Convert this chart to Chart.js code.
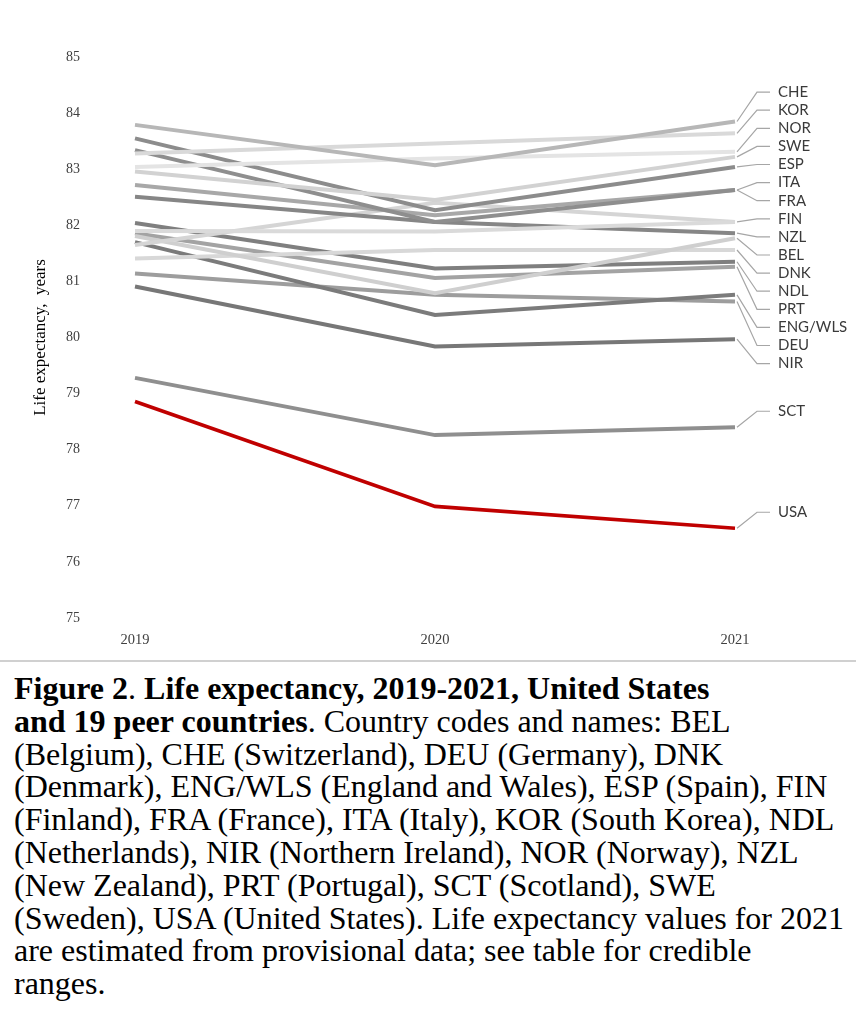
<!DOCTYPE html>
<html>
<head>
<meta charset="utf-8">
<script src="https://cdn.jsdelivr.net/npm/chart.js@4/dist/chart.umd.min.js"></script>
<style>
  html, body { margin: 0; padding: 0; background: #ffffff; }
  #wrap { position: relative; width: 863px; height: 1024px; overflow: hidden; }
  #chart { position: absolute; left: 0; top: 0; width: 863px; height: 660px; }
  #sep { position: absolute; left: 0; top: 660px; width: 856px; height: 2px; background: #d0d0d0; }
  #cap { position: absolute; left: 14px; top: 672px; font-family: "Liberation Serif", "Times New Roman", serif;
         font-size: 32px; line-height: 32.8px; color: #000; white-space: nowrap; }
</style>
</head>
<body>
<div id="wrap">
  <canvas id="chart" width="863" height="660"></canvas>
  <div id="sep"></div>
  <div id="cap">
    <b>Figure 2</b>. <b>Life expectancy, 2019-2021, United States</b><br>
    <b>and 19 peer countries</b>. Country codes and names: BEL<br>
    (Belgium), CHE (Switzerland), DEU (Germany), DNK<br>
    (Denmark), ENG/WLS (England and Wales), ESP (Spain), FIN<br>
    (Finland), FRA (France), ITA (Italy), KOR (South Korea), NDL<br>
    (Netherlands), NIR (Northern Ireland), NOR (Norway), NZL<br>
    (New Zealand), PRT (Portugal), SCT (Scotland), SWE<br>
    (Sweden), USA (United States). Life expectancy values for 2021<br>
    are estimated from provisional data; see table for credible<br>
    ranges.
  </div>
</div>
<script>
// ---- data ----
const years = [2019, 2020, 2021];
const yTicks = [75, 76, 77, 78, 79, 80, 81, 82, 83, 84, 85];

const CHE = [83.79, 83.07, 83.85];
const KOR = [83.28, 83.46, 83.64];
const NOR = [83.04, 83.19, 83.31];
const SWE = [82.96, 82.45, 83.22];
const ESP = [83.55, 82.27, 83.04];
const ITA = [83.34, 82.06, 82.63];
const FRA = [82.72, 82.18, 82.63];
const FIN = [81.90, 81.89, 82.06];
const NZL = [82.51, 82.06, 81.86];
const UNLABELED = [81.65, 82.40, 82.06];
const BEL = [81.81, 80.79, 81.77];
const DNK = [81.41, 81.56, 81.56];
const NDL = [82.04, 81.23, 81.35];
const PRT = [81.86, 81.06, 81.26];
const ENG_WLS = [81.70, 80.40, 80.76];
const DEU = [81.14, 80.76, 80.64];
const NIR = [80.91, 79.84, 79.97];
const SCT = [79.28, 78.26, 78.40];
const USA = [78.86, 76.99, 76.60];

const seriesNames = ['CHE','KOR','NOR','SWE','ESP','ITA','FRA','FIN','NZL','','BEL','DNK','NDL','PRT','ENG/WLS','DEU','NIR','SCT','USA'];
const seriesValues = [CHE,KOR,NOR,SWE,ESP,ITA,FRA,FIN,NZL,UNLABELED,BEL,DNK,NDL,PRT,ENG_WLS,DEU,NIR,SCT,USA];

// ---- styles ----
const seriesColors = ['#b7b7b7','#d9d9d9','#e4e4e4','#d2d2d2','#8c8c8c','#8e8e8e','#a8a8a8','#dadada','#868686','#d5d5d5',
                      '#cfcfcf','#d8d8d8','#7f7f7f','#a3a3a3','#7b7b7b','#9d9d9d','#777777','#8f8f8f','#c00000'];
const serif = '"Liberation Serif", "Times New Roman", serif';

const datasets = seriesNames.map((name, i) => ({
  label: name,
  data: years.map((yr, k) => ({ x: yr, y: seriesValues[i][k] })),
  borderColor: seriesColors[i],
  borderWidth: name === 'USA' ? 3.6 : 4,
  pointRadius: 0,
  tension: 0,
  fill: false
}));

const endLabels = {
  id: 'endLabels',
  afterDatasetsDraw(chart) {
    const ctx = chart.ctx;
    const gap = 18.1;
    const items = [];
    chart.data.datasets.forEach((ds, i) => {
      if (!ds.label) return;
      const pts = chart.getDatasetMeta(i).data;
      const pt = pts[pts.length - 1];
      items.push({ text: ds.label, x: pt.x, y: pt.y, target: pt.y });
    });
    items.sort((a, b) => a.target - b.target);
    const clusters = items.map(it => ({ items: [it] }));
    const layout = c => {
      const n = c.items.length;
      const mean = c.items.reduce((s, it) => s + it.target, 0) / n;
      c.top = mean - (n - 1) * gap / 2;
    };
    clusters.forEach(layout);
    let changed = true;
    while (changed) {
      changed = false;
      for (let i = 1; i < clusters.length; i++) {
        const a = clusters[i - 1], b = clusters[i];
        const aBottom = a.top + (a.items.length - 1) * gap;
        if (b.top - aBottom < gap) {
          a.items = a.items.concat(b.items);
          layout(a);
          clusters.splice(i, 1);
          changed = true;
          break;
        }
      }
    }
    clusters.forEach(c => {
      const lift = c.items.length === 1 ? 16 : -8;
      c.items.forEach((it, k) => { it.ly = c.top + k * gap - lift; });
    });
    ctx.save();
    ctx.strokeStyle = '#a6a6a6';
    ctx.lineWidth = 1.2;
    ctx.fillStyle = '#3a3a3a';
    ctx.font = '15px Lato, "Open Sans", sans-serif';
    ctx.textBaseline = 'middle';
    ctx.textAlign = 'left';
    items.forEach(it => {
      ctx.beginPath();
      ctx.moveTo(it.x + 2, it.y);
      ctx.lineTo(it.x + 22, it.ly);
      ctx.lineTo(it.x + 35, it.ly);
      ctx.stroke();
      ctx.fillText(it.text, it.x + 43, it.ly);
    });
    ctx.restore();
  }
};

const xPad = 35 / 300;
new Chart(document.getElementById('chart'), {
  type: 'line',
  data: { datasets },
  options: {
    responsive: false,
    animation: false,
    layout: { padding: { top: 57, right: 93, bottom: 0, left: 0 } },
    plugins: { legend: { display: false }, tooltip: { enabled: false } },
    scales: {
      x: {
        type: 'linear',
        min: years[0] - xPad,
        max: years[years.length - 1] + xPad,
        afterBuildTicks: s => { s.ticks = years.map(v => ({ value: v })); },
        afterFit: s => { s.height = 42; },
        grid: { display: false, drawTicks: false },
        border: { display: false },
        ticks: { callback: v => String(v), font: { family: serif, size: 14.5 }, color: '#404040', padding: 13, maxRotation: 0, autoSkip: false }
      },
      y: {
        min: yTicks[0],
        max: yTicks[yTicks.length - 1],
        afterBuildTicks: s => { s.ticks = yTicks.map(v => ({ value: v })); },
        afterFit: s => { s.width = 100; },
        grid: { display: false, drawTicks: false },
        border: { display: false },
        ticks: { font: { family: serif, size: 14 }, color: '#404040', padding: 20 },
        title: { display: true, text: 'Life expectancy,  years', font: { family: serif, size: 17 }, color: '#000000', padding: { top: 30, bottom: 0 } }
      }
    }
  },
  plugins: [endLabels]
});
</script>
</body>
</html>
